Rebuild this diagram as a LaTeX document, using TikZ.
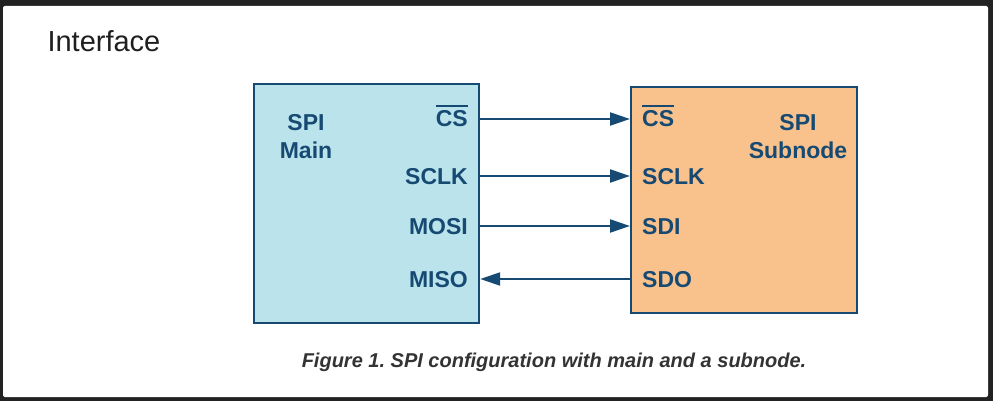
\documentclass[tikz,border=0pt]{standalone}
\usepackage{fontspec}
\setmainfont{Liberation Sans}
\usepackage{xcolor}
\usetikzlibrary{arrows.meta}

\definecolor{spinavy}{HTML}{174A72}
\definecolor{mainblue}{HTML}{BAE3EC}
\definecolor{subpeach}{HTML}{F9C28D}
\definecolor{framegray}{HTML}{222222}
\definecolor{capgray}{HTML}{333333}

% active-low signal name with a bar over it
\newcommand{\barsig}[1]{\setbox0\hbox{#1}\rlap{\raisebox{20pt}{\rule{\wd0}{1.8pt}}}\box0}

\begin{document}
\frenchspacing
\begin{tikzpicture}[x=1pt, y=-1pt,
    block/.style={draw=spinavy, line width=2.2pt, inner sep=0pt, anchor=north west},
    pin/.style={inner sep=0pt, text height=16pt, text depth=0pt, font=\bfseries\fontsize{23}{27}\selectfont, text=spinavy},
    devname/.style={inner sep=0pt, anchor=north, align=center, font=\bfseries\fontsize{23}{28}\selectfont, text=spinavy},
    arrow/.style={-{Triangle[length=20pt, width=13pt]}, line width=2.2pt, draw=spinavy}
]
% frame
\fill[framegray] (0,0) rectangle (993,401);
\fill[white, rounded corners=2pt] (3,6) rectangle (988,397);

\node[anchor=base west, font=\fontsize{29}{33}\selectfont, text=black!88] (title) at (44,52) {Interface};

% the two devices
\node[block, fill=mainblue, minimum width=225pt, minimum height=239pt] (main) at (253,83) {};
\node[block, fill=subpeach, minimum width=226pt, minimum height=226pt] (sub) at (630,86) {};

\node[devname] (mainname) at (306,114) {SPI\\Main};
\node[devname] (subname) at (798,114) {SPI\\Subnode};

% pins of the main
\node[pin, anchor=east] (cs-m) at (468,119) {\barsig{CS}};
\node[pin, anchor=east] (sclk-m) at (468,176) {SCLK};
\node[pin, anchor=east] (mosi-m) at (468,226) {MOSI};
\node[pin, anchor=east] (miso-m) at (468,279) {MISO};

% pins of the subnode
\node[pin, anchor=west] (cs-s) at (642,119) {\barsig{CS}};
\node[pin, anchor=west] (sclk-s) at (642,176) {SCLK};
\node[pin, anchor=west] (sdi-s) at (642,226) {SDI};
\node[pin, anchor=west] (sdo-s) at (642,279) {SDO};

\draw[arrow] (main.east |- cs-m) -- (sub.west |- cs-s);
\draw[arrow] (main.east |- sclk-m) -- (sub.west |- sclk-s);
\draw[arrow] (main.east |- mosi-m) -- (sub.west |- sdi-s);
\draw[arrow] (sub.west |- sdo-s) -- (main.east |- miso-m);

\node[anchor=base, font=\bfseries\itshape\fontsize{20}{24}\selectfont, text=capgray] (caption) at (554,367) {Figure 1. SPI configuration with main and a subnode.};
\end{tikzpicture}
\end{document}
